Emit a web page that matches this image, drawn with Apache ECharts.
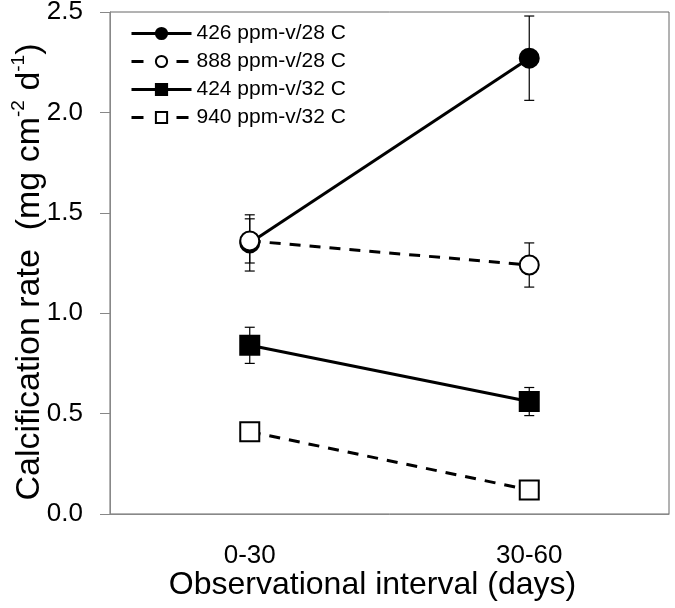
<!DOCTYPE html>
<html><head><meta charset="utf-8">
<script src="https://cdn.jsdelivr.net/npm/echarts@6/dist/echarts.min.js"></script>
<style>html,body{margin:0;padding:0;background:#fff}#c{width:675px;height:608px}</style>
</head><body><div id="c"></div>
<script>
const categories = ['0-30', '30-60'];
const seriesNames = ['426 ppm-v/28 C', '888 ppm-v/28 C', '424 ppm-v/32 C', '940 ppm-v/32 C'];
const v426_28 = [1.35, 2.27];
const e426_28 = [0.14, 0.21];
const v888_28 = [1.36, 1.24];
const e888_28 = [0.11, 0.11];
const v424_32 = [0.84, 0.56];
const e424_32 = [0.09, 0.07];
const v940_32 = [0.41, 0.12];
const e940_32 = [0, 0];
const yTicks = [0, 0.5, 1.0, 1.5, 2.0, 2.5];

const FONT = 'Liberation Sans, Arial, sans-serif';
const chart = echarts.init(document.getElementById('c'), null, {renderer: 'canvas'});

function errSeries(vals, errs) {
  const data = vals.map((v, i) => [i, v - errs[i], v + errs[i]]).filter((d, i) => errs[i] > 0);
  return {
    type: 'custom',
    silent: true,
    z: 1,
    data: data,
    renderItem: function (params, api) {
      const x = api.value(0);
      const lo = api.coord([x, api.value(1)]);
      const hi = api.coord([x, api.value(2)]);
      const w = 5;
      const st = {stroke: '#000', lineWidth: 1.2};
      return {type: 'group', children: [
        {type: 'line', shape: {x1: lo[0], y1: lo[1], x2: hi[0], y2: hi[1]}, style: st},
        {type: 'line', shape: {x1: lo[0] - w, y1: lo[1], x2: lo[0] + w, y2: lo[1]}, style: st},
        {type: 'line', shape: {x1: hi[0] - w, y1: hi[1], x2: hi[0] + w, y2: hi[1]}, style: st}
      ]};
    }
  };
}

function lineSeries(name, vals, symbol, filled, dashed) {
  return {
    name: name,
    type: 'line',
    z: 3,
    data: vals,
    symbol: symbol,
    symbolSize: 19,
    showSymbol: true,
    lineStyle: {color: '#000', width: 3, type: dashed ? [11, 9] : 'solid'},
    itemStyle: {color: filled ? '#000' : '#fff', borderColor: '#000', borderWidth: 2},
    emphasis: {disabled: true}
  };
}

const legendData = seriesNames.map((n, i) => (i % 2 === 1)
  ? {name: n, lineStyle: {type: [12, 33], width: 3, color: '#000'}}
  : {name: n, lineStyle: {type: 'solid', width: 3, color: '#000'}});

chart.setOption({
  animation: false,
  backgroundColor: '#fff',
  grid: {left: 110, right: 6, top: 12, bottom: 94, outerBoundsMode: 'none', containLabel: false,
         show: true, borderColor: '#666', borderWidth: 1, backgroundColor: 'transparent'},
  legend: {
    orient: 'vertical', left: 130, top: 23, padding: 0,
    itemWidth: 60, itemHeight: 14, itemGap: 7,
    textStyle: {fontFamily: FONT, fontSize: 21, color: '#000'},
    data: legendData
  },
  xAxis: {
    type: 'category', data: categories, boundaryGap: true,
    axisLine: {lineStyle: {color: '#888', width: 1}},
    axisTick: {alignWithLabel: true, length: 7, lineStyle: {color: '#888'}},
    axisLabel: {fontFamily: FONT, fontSize: 26, color: '#000', margin: 29},
    name: 'Observational interval (days)', nameLocation: 'middle', nameGap: 55,
    nameMoveOverlap: false,
    nameTextStyle: {fontFamily: FONT, fontSize: 32, color: '#000', padding: [0, 34, 0, 0]}
  },
  yAxis: {
    type: 'value', min: 0, max: 2.5, interval: 0.5,
    axisLine: {show: true, lineStyle: {color: '#888', width: 1}},
    axisTick: {show: true, length: 10, lineStyle: {color: '#888'}},
    splitLine: {show: false},
    axisLabel: {fontFamily: FONT, fontSize: 26, color: '#000', margin: 27, formatter: v => v.toFixed(1)},
    name: '{b|Calcification rate  (mg cm}{s|-2}{b| d}{s|-1}{b|)}',
    nameLocation: 'middle', nameGap: 63, nameRotate: 90, nameMoveOverlap: false,
    nameTextStyle: {
      fontFamily: FONT, fontSize: 34, color: '#000', padding: [0, 18, 0, 0],
      rich: {
        b: {fontFamily: FONT, fontSize: 34, color: '#000', lineHeight: 38, verticalAlign: 'bottom'},
        s: {fontFamily: FONT, fontSize: 19, color: '#000', lineHeight: 38, verticalAlign: 'top'}
      }
    }
  },
  series: [
    errSeries(v426_28, e426_28),
    errSeries(v888_28, e888_28),
    errSeries(v424_32, e424_32),
    errSeries(v940_32, e940_32),
    lineSeries(seriesNames[0], v426_28, 'circle', true, false),
    lineSeries(seriesNames[1], v888_28, 'circle', false, true),
    lineSeries(seriesNames[2], v424_32, 'rect', true, false),
    lineSeries(seriesNames[3], v940_32, 'rect', false, true)
  ]
});
</script></body></html>
